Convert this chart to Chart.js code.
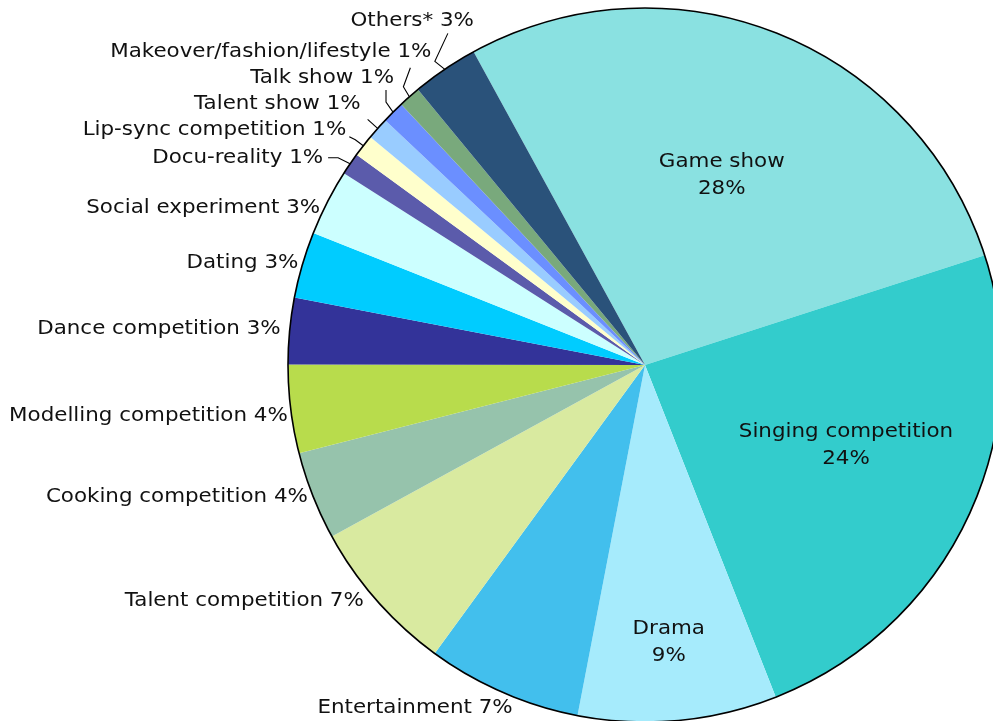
<!DOCTYPE html>
<html>
<head>
<meta charset="utf-8">
<script src="https://cdn.jsdelivr.net/npm/chart.js@4.4.1/dist/chart.umd.min.js"></script>
<style>
  html, body { margin: 0; padding: 0; background: #ffffff; overflow: hidden; width: 993px; height: 721px; }
  #wrap { position: absolute; left: 0; top: 0; width: 1010px; height: 730px; }
</style>
</head>
<body>
<div id="wrap"><canvas id="c" width="1010" height="730"></canvas></div>
<script>
// ---- data ----
const categories = [
  "Game show", "Singing competition", "Drama", "Entertainment", "Talent competition",
  "Cooking competition", "Modelling competition", "Dance competition", "Dating",
  "Social experiment", "Docu-reality", "Lip-sync competition", "Talent show",
  "Talk show", "Makeover/fashion/lifestyle", "Others*"
];
const shares = [28, 24, 9, 7, 7, 4, 4, 3, 3, 3, 1, 1, 1, 1, 1, 3];
const percentLabels = ["28%", "24%", "9%", "7%", "7%", "4%", "4%", "3%", "3%", "3%", "1%", "1%", "1%", "1%", "1%", "3%"];

// ---- styles ----
const colors = [
  "#8ae1e1", "#33cccc", "#a6ebfc", "#42bfed", "#d9eaa0",
  "#96c3ac", "#b8dc4c", "#333399", "#00ccff", "#ccffff",
  "#5b5bab", "#ffffcc", "#99ccff", "#6b8fff", "#79a97c", "#2a527a"
];
const FONT = '20px "DejaVu Sans"';
const XSCALE = 1.07;
const TEXT = "#111111";

// label layout: inside labels by radius fraction + angle shift (deg);
// outside labels as offsets from the slice's outer-edge midpoint.
const labelLayout = [
  { inside: true, rf: 0.574, da: 0.3 },
  { inside: true, rf: 0.606, da: -3.6 },
  { inside: true, rf: 0.78, da: 0.4 },
  { dx: 10, dy: 15 },
  { dx: -13, dy: 0 },
  { dx: -5, dy: 1 },
  { dx: -3, dy: 7 },
  { dx: -9, dy: -2 },
  { dx: -4, dy: -2 },
  { dx: -7, dy: 5 },
  { dx: -27, dy: -6, leader: [[-22, -6], [-12, -6]] },
  { dx: -17, dy: -16, leader: [[-14, -9], [-8, -6]] },
  { dx: -17, dy: -25, leader: [[-10, -9]] },
  { dx: 1, dy: -34, leader: [[-7, -22], [-7, -10]] },
  { dx: 22, dy: -45, leader: [[1, -29], [-6, -10]] },
  { dx: 29, dy: -49, leader: [[3, -36], [-10, -8]] }
];

function drawText(ctx, str, x, y, align) {
  ctx.save();
  ctx.translate(x, y);
  ctx.scale(XSCALE, 1);
  ctx.textAlign = align;
  ctx.fillText(str, 0, 0);
  ctx.restore();
}

const labelPlugin = {
  id: "pieLabels",
  afterDatasetsDraw(chart) {
    const ctx = chart.ctx;
    const meta = chart.getDatasetMeta(0);
    const first = meta.data[0];
    const cx = first.x, cy = first.y, R = first.outerRadius;
    // outer outline
    ctx.save();
    ctx.beginPath();
    ctx.arc(cx, cy, R, 0, Math.PI * 2);
    ctx.lineWidth = 1.6;
    ctx.strokeStyle = "#000";
    ctx.stroke();
    ctx.restore();

    ctx.save();
    ctx.font = FONT;
    ctx.fillStyle = TEXT;
    ctx.textBaseline = "middle";
    meta.data.forEach((arc, i) => {
      const mid = (arc.startAngle + arc.endAngle) / 2;
      const lay = labelLayout[i];
      if (lay.inside) {
        const a = mid + lay.da * Math.PI / 180;
        const x = cx + Math.cos(a) * R * lay.rf;
        const y = cy + Math.sin(a) * R * lay.rf;
        drawText(ctx, categories[i], x, y - 13.5, "center");
        drawText(ctx, percentLabels[i], x, y + 13.5, "center");
      } else {
        const ex = cx + Math.cos(mid) * R;
        const ey = cy + Math.sin(mid) * R;
        drawText(ctx, categories[i] + " " + percentLabels[i], ex + lay.dx, ey + lay.dy, "right");
        if (lay.leader) {
          ctx.beginPath();
          ctx.moveTo(ex + lay.leader[0][0], ey + lay.leader[0][1]);
          for (let k = 1; k < lay.leader.length; k++) {
            ctx.lineTo(ex + lay.leader[k][0], ey + lay.leader[k][1]);
          }
          ctx.lineTo(ex, ey);
          ctx.lineWidth = 1.1;
          ctx.strokeStyle = "#000";
          ctx.stroke();
        }
      }
    });
    ctx.restore();
  }
};

new Chart(document.getElementById("c"), {
  type: "pie",
  data: {
    labels: categories,
    datasets: [{
      data: shares,
      backgroundColor: colors,
      borderWidth: 0,
      hoverOffset: 0
    }]
  },
  options: {
    responsive: false,
    animation: false,
    rotation: -28.7,
    layout: { padding: { left: 288, top: 8, right: 8, bottom: 8 } },
    plugins: {
      legend: { display: false },
      tooltip: { enabled: false }
    }
  },
  plugins: [labelPlugin]
});
</script>
</body>
</html>
